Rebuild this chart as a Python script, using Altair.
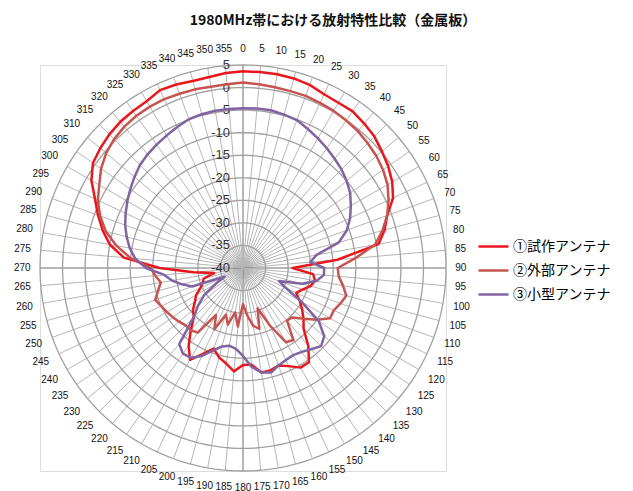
import altair as alt
import numpy as np
import pandas as pd

TITLE = "1980MHz帯における放射特性比較（金属板）"
SERIES_NAMES = ["①試作アンテナ", "②外部アンテナ", "③小型アンテナ"]
SERIES_COLORS = ["#e9161c", "#c75350", "#8064a2"]

# measurement angles (degrees, clockwise from top)
ANGLES = list(range(0, 360, 5))

# gain readings in dB, one per angle
PROTOTYPE = [
    3.6, 3.6, 3.6, 3.5, 3.2, 2.5, 2.3, 2.4, 1.8, 1.2, 0.2, -0.7,
    -1.8, -3.3, -6.0, -7.5, -9.5, -19.0, -29.0, -24.4, -23.8, -24.5, -26.0, -27.0,
    -25.5, -24.0, -22.5, -21.0, -17.5, -14.5, -14.5, -16.0, -17.0, -16.5, -16.5, -18.5,
    -18.5, -17.0, -18.5, -19.5, -21.0, -19.0, -16.5, -19.0, -22.0, -24.6, -25.5, -27.0,
    -28.0, -29.6, -30.5, -31.0, -33.5, -29.0, -21.5, -13.5, -10.0, -7.8, -5.8, -3.8,
    -1.2, 0.6, 1.3, 1.9, 2.3, 2.5, 2.7, 3.5, 3.3, 2.9, 3.0, 3.4,
]
EXTERNAL = [
    1.1, 0.9, 0.7, 0.6, 0.6, 0.4, 0.2, -0.1, -0.4, -0.9, -1.4, -2.1,
    -3.0, -4.4, -6.0, -8.0, -10.3, -15.0, -19.0, -18.7, -17.5, -16.3, -17.0, -17.8,
    -17.7, -20.0, -22.5, -24.5, -24.8, -20.5, -21.0, -26.0, -30.5, -26.0, -27.0, -29.5,
    -32.0, -27.0, -30.0, -27.0, -29.0, -25.0, -28.0, -22.5, -22.0, -22.0, -21.5, -21.0,
    -20.5, -20.0, -19.3, -20.5, -21.5, -20.5, -19.5, -15.0, -11.5, -8.5, -6.3, -4.5,
    -3.2, -1.6, -0.4, 0.4, 0.9, 1.2, 1.3, 1.3, 1.1, 1.0, 0.8, 0.9,
]
COMPACT = [
    -4.6, -4.5, -4.5, -4.8, -5.1, -6.0, -6.8, -7.6, -8.4, -9.1, -10.0, -11.0,
    -12.4, -13.8, -15.5, -18.0, -23.5, -25.0, -22.0, -22.0, -23.5, -26.5, -31.5, -29.5,
    -25.0, -19.5, -16.5, -15.5, -16.5, -17.3, -17.7, -17.5, -17.0, -16.0, -16.5, -18.0,
    -20.5, -22.0, -22.5, -22.0, -20.5, -18.5, -17.0, -16.8, -18.0, -24.5, -27.0, -29.5,
    -33.0, -35.5, -28.0, -26.0, -24.0, -22.5, -18.5, -16.0, -14.5, -13.3, -12.2, -11.3,
    -10.4, -9.5, -8.6, -7.7, -7.1, -6.6, -6.1, -5.5, -4.9, -4.7, -4.6, -4.6,
]

# radial axis (dB), centre of the plot is the floor value
RING_VALUES = [5, 0, -5, -10, -15, -20, -25, -30, -35]
RING_LABELS = ["5", "0", "-5", "-10", "-15", "-20", "-25", "-30", "-35", "-40"]
RING_LABEL_VALUES = [5, 0, -5, -10, -15, -20, -25, -30, -35, -40]
FLOOR = -40
TOP = 5
SPAN = TOP - FLOOR

SIZE = 406
PX_PER_UNIT = SIZE / (2 * SPAN)

# ---- tables -------------------------------------------------------------
curve_rows = []
for name, vals in zip(SERIES_NAMES, [PROTOTYPE, EXTERNAL, COMPACT]):
    for a, v in zip(ANGLES + [360], vals + vals[:1]):
        curve_rows.append({"series": name, "angle": a, "gain": v})
curves = pd.DataFrame(curve_rows)

ring_angles = np.arange(0, 361, 2)
rings = pd.DataFrame(
    [{"ring": rv, "angle": int(a), "gain": rv} for rv in RING_VALUES for a in ring_angles]
)

spokes = pd.DataFrame({"angle": ANGLES})
spokes["major"] = (spokes["angle"] % 90 == 0).astype(int)

angle_labels = pd.DataFrame({"angle": ANGLES, "label": [str(a) for a in ANGLES]})
radial_labels = pd.DataFrame({"gain": RING_LABEL_VALUES, "label": RING_LABELS})

# ---- scales -------------------------------------------------------------
xs = alt.Scale(domain=[-SPAN, SPAN], nice=False, zero=False)
ys = alt.Scale(domain=[-SPAN, SPAN], nice=False, zero=False)


def polar(chart):
    return chart.transform_calculate(
        r=f"datum.gain - ({FLOOR})"
    ).transform_calculate(
        x="datum.r * sin(datum.angle * PI / 180)",
        y="datum.r * cos(datum.angle * PI / 180)",
    )


ring_layer = polar(alt.Chart(rings)).mark_line(
    color="#a0a0a0", strokeWidth=1.3
).encode(
    x=alt.X("x:Q", scale=xs, axis=None),
    y=alt.Y("y:Q", scale=ys, axis=None),
    detail="ring:N",
    order="angle:Q",
)

spoke_layer = alt.Chart(spokes).transform_calculate(
    x0="0", y0="0",
    x1=f"{SPAN} * sin(datum.angle * PI / 180)",
    y1=f"{SPAN} * cos(datum.angle * PI / 180)",
).mark_rule(strokeWidth=1).encode(
    x=alt.X("x0:Q", scale=xs, axis=None),
    y=alt.Y("y0:Q", scale=ys, axis=None),
    x2="x1:Q",
    y2="y1:Q",
    color=alt.condition(alt.datum.major == 1, alt.value("#6e6e6e"), alt.value("#b5b5b5")),
)

curve_layer = polar(alt.Chart(curves)).mark_line(
    strokeWidth=2.5, strokeJoin="round"
).encode(
    x=alt.X("x:Q", scale=xs, axis=None),
    y=alt.Y("y:Q", scale=ys, axis=None),
    color=alt.Color(
        "series:N",
        scale=alt.Scale(domain=SERIES_NAMES, range=SERIES_COLORS),
        legend=alt.Legend(
            title=None,
            orient="none",
            legendX=437,
            legendY=165,
            symbolType="stroke",
            symbolSize=900,
            symbolStrokeWidth=2.5,
            labelFont="Noto Sans CJK JP",
            labelFontSize=14,
            labelColor="#000000",
            labelOffset=3,
            rowPadding=-7,
            padding=0,
        ),
    ),
    order="angle:Q",
)

angle_text = alt.Chart(angle_labels).transform_calculate(
    s="sin(datum.angle * PI / 180)",
    c="cos(datum.angle * PI / 180)",
).transform_calculate(
    rl=f"{SPAN} + (9 + length(datum.label) * 2.9 * abs(datum.s) + 7.5 * abs(datum.c)) / {PX_PER_UNIT}",
).transform_calculate(
    x="datum.rl * datum.s",
    y="datum.rl * datum.c",
).mark_text(
    font="Liberation Sans", fontSize=10, color="#111111", align="center", baseline="middle"
).encode(
    x=alt.X("x:Q", scale=xs, axis=None),
    y=alt.Y("y:Q", scale=ys, axis=None),
    text="label:N",
)

radial_text = alt.Chart(radial_labels).transform_calculate(
    x="0", y=f"datum.gain - ({FLOOR})"
).mark_text(
    font="Liberation Sans", fontSize=13, color="#333333", align="right", baseline="middle", dx=-13
).encode(
    x=alt.X("x:Q", scale=xs, axis=None),
    y=alt.Y("y:Q", scale=ys, axis=None),
    text="label:N",
)

chart = alt.layer(
    spoke_layer, ring_layer, radial_text, curve_layer, angle_text
).properties(
    width=SIZE,
    height=SIZE,
    autosize=alt.AutoSizeParams(type="none"),
    padding={"left": 40, "top": 65, "right": 187, "bottom": 20},
    title=alt.TitleParams(
        TITLE,
        font="Noto Sans CJK JP",
        fontSize=14,
        fontWeight="bold",
        color="#111111",
        anchor="middle",
        dx=90,
        dy=-12,
    ),
).configure_view(stroke=None).configure(background="white")

chart.save("out.html", embed_options={"renderer": "svg", "actions": False})
